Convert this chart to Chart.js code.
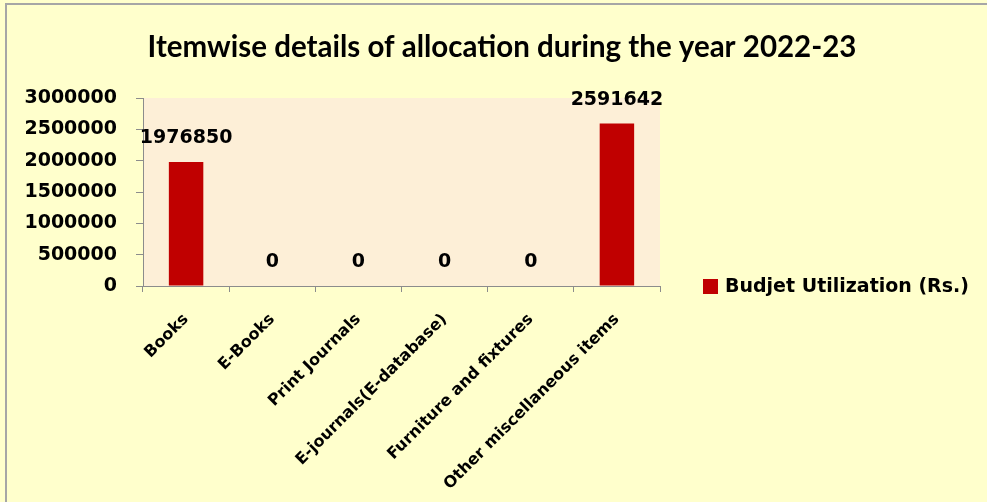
<!DOCTYPE html>
<html>
<head>
<meta charset="utf-8">
<script src="https://cdn.jsdelivr.net/npm/chart.js@4.4.1/dist/chart.umd.min.js"></script>
<style>
  html, body { margin: 0; padding: 0; background: #FFFFCC; overflow: hidden; }
  #wrap { position: absolute; left: 0; top: 0; width: 987px; height: 502px; }
</style>
</head>
<body>
<div id="wrap"><canvas id="c" width="987" height="502"></canvas></div>
<script>
const chartTitle = 'Itemwise details of allocation during the year 2022-23';
const seriesLabel = 'Budjet Utilization (Rs.)';
const categories = ['Books', 'E-Books', 'Print Journals', 'E-journals(E-database)', 'Furniture and fixtures', 'Other miscellaneous items'];
const budgetValues = [1976850, 0, 0, 0, 0, 2591642];
const yTicks = [0, 500000, 1000000, 1500000, 2000000, 2500000, 3000000];

const BAR_COLOR = '#C00000';
const OUTER_BG = '#FFFFCC';
const PLOT_BG = '#FDEFD7';
const AXIS_COLOR = '#8C8C8C';
const NUM_FONT = 'DejaVu Sans';

const decorPlugin = {
  id: 'decor',
  beforeDraw(chart) {
    const ctx = chart.ctx, a = chart.chartArea;
    ctx.save();
    ctx.fillStyle = OUTER_BG;
    ctx.fillRect(0, 0, chart.width, chart.height);
    ctx.fillStyle = '#A6A6A6';
    ctx.fillRect(5, 3, 2, chart.height);
    ctx.fillRect(5, 3, chart.width, 2);
    ctx.fillStyle = PLOT_BG;
    ctx.fillRect(a.left, a.top, a.right - a.left, a.bottom - a.top);
    ctx.restore();
  },
  afterDraw(chart) {
    const ctx = chart.ctx;
    ctx.save();
    // title
    ctx.fillStyle = '#000';
    ctx.font = 'bold 29.5px Lato';
    ctx.textAlign = 'center';
    ctx.textBaseline = 'middle';
    ctx.fillText(chartTitle, 502, 47);
    // data labels
    const meta = chart.getDatasetMeta(0);
    ctx.font = 'bold 19px "' + NUM_FONT + '"';
    ctx.textBaseline = 'alphabetic';
    meta.data.forEach((bar, i) => {
      ctx.fillText(String(chart.data.datasets[0].data[i]), bar.x, bar.y - 19);
    });
    // legend
    const ds = chart.data.datasets[0];
    ctx.fillStyle = ds.backgroundColor;
    ctx.fillRect(703, 279, 15, 15);
    ctx.fillStyle = '#000';
    ctx.textAlign = 'left';
    ctx.textBaseline = 'middle';
    ctx.fillText(ds.label, 725, 287);
    ctx.restore();
  }
};

new Chart(document.getElementById('c'), {
  type: 'bar',
  data: {
    labels: categories,
    datasets: [{
      label: seriesLabel,
      data: budgetValues,
      backgroundColor: BAR_COLOR,
      borderWidth: 0,
      categoryPercentage: 1.0,
      barPercentage: 0.4
    }]
  },
  options: {
    responsive: false,
    animation: false,
    devicePixelRatio: 1,
    layout: { padding: { left: 0, top: 98, right: 327, bottom: 0 } },
    plugins: {
      legend: { display: false },
      title: { display: false },
      tooltip: { enabled: false }
    },
    scales: {
      y: {
        min: 0, max: 3000000,
        afterFit(s) { s.width = 143; },
        afterBuildTicks(s) { s.ticks = yTicks.map(v => ({ value: v })); },
        ticks: {
          color: '#000',
          padding: 19,
          font: { family: NUM_FONT, weight: 'bold', size: 19 },
          callback: v => String(v)
        },
        grid: { drawOnChartArea: false, drawTicks: true, tickLength: 7, color: AXIS_COLOR },
        border: { display: true, color: AXIS_COLOR, width: 1 }
      },
      x: {
        afterFit(s) { s.height = 216; },
        ticks: {
          color: '#000',
          minRotation: 45, maxRotation: 45,
          padding: 18,
          autoSkip: false,
          font: { family: NUM_FONT, weight: 'bold', size: 16 }
        },
        grid: { offset: true, drawOnChartArea: false, drawTicks: true, tickLength: 6, color: AXIS_COLOR },
        border: { display: true, color: AXIS_COLOR, width: 1 }
      }
    }
  },
  plugins: [decorPlugin]
});
</script>
</body>
</html>
